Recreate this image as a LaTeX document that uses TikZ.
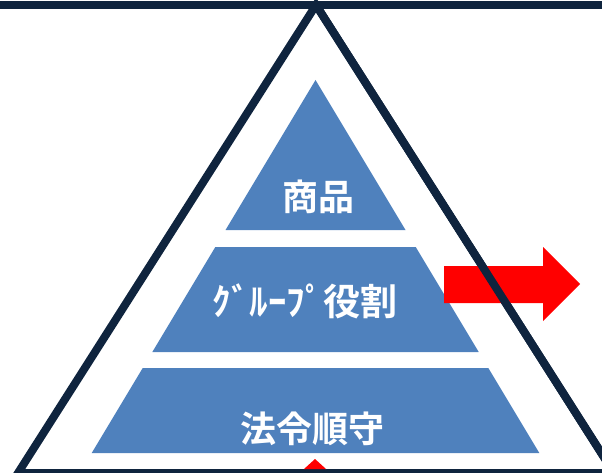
\documentclass[tikz,border=0pt]{standalone}
\usepackage{fontspec}
\newfontfamily\jp{Noto Sans CJK JP}[BoldFont={Noto Sans CJK JP Bold}]
\definecolor{navy}{HTML}{0F243E}
\definecolor{pblue}{HTML}{4F81BD}
\begin{document}
\begin{tikzpicture}[x=1pt,y=-1pt,
  frame/.style={draw=navy,line width=8pt,line join=miter},
  tier/.style={fill=pblue},
  lbl/.style={text=white,font=\jp\bfseries\fontsize{36}{40}\selectfont,inner sep=0pt},
  redarrow/.style={fill=red}]
\useasboundingbox (0,0) rectangle (602,473);
\begin{scope}
\clip (0,0) rectangle (602,473);
% top bar
\draw[frame] (-10,5) -- (612,5);
% big triangle
\draw[frame] (316,5) -- (614,473) -- (18,473) -- cycle;
% pyramid tiers
\fill[tier] (315.5,80) -- (405.5,230) -- (225.5,230) -- cycle;
\fill[tier] (215.3,247) -- (415.7,247) -- (478.7,352) -- (152.3,352) -- cycle;
\fill[tier] (142.7,368) -- (488.3,368) -- (539.3,453) -- (91.7,453) -- cycle;
% red arrow
\fill[redarrow] (444,266) -- (543,266) -- (543,247) -- (580,284) -- (543,321) -- (543,303) -- (444,303) -- cycle;
% small red triangle
\fill[red] (315,459) -- (326,469) -- (304,469) -- cycle;
\end{scope}
% right line drawn over arrow
\begin{scope}
\clip (0,0) rectangle (602,473);
\draw[navy,line width=8pt] (316,5) -- (614,473);
\end{scope}
\node[lbl] (t1) at (318,197) {商品};
\node[lbl,font=\jp\bfseries\fontsize{37}{40}\selectfont] (t2) at (305,301) {ｸﾞﾙｰﾌﾟ役割};
\node[lbl] (t3) at (312,429) {法令順守};
\end{tikzpicture}
\end{document}
